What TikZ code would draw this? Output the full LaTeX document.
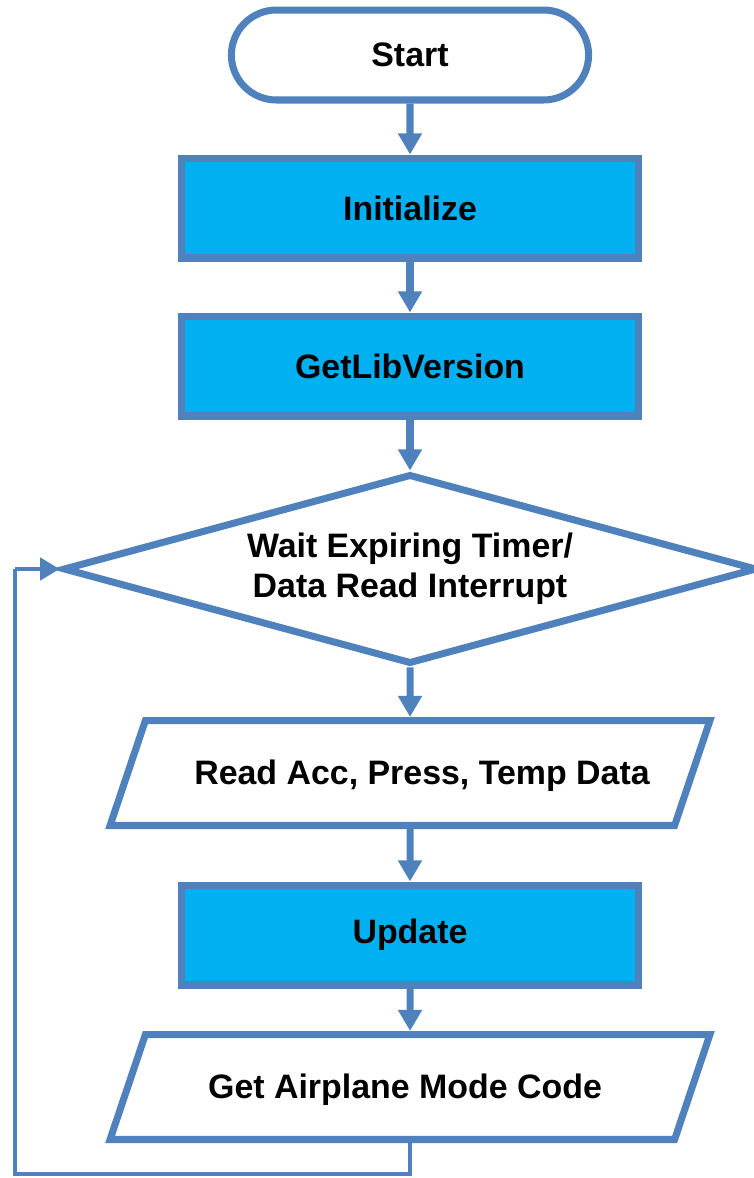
\documentclass[tikz,border=0pt]{standalone}
\usepackage{fontspec}
\setmainfont{Liberation Sans}
\usetikzlibrary{shapes.geometric,shapes.misc,arrows.meta}
\definecolor{edgeblue}{RGB}{79,129,189}
\definecolor{boxcyan}{RGB}{0,176,240}
\tikzset{
  terminal/.style={rounded rectangle, draw=edgeblue, line width=4pt, fill=white,
    minimum width=7.38cm, minimum height=1.8cm},
  process/.style={rectangle, draw=edgeblue, line width=4pt, fill=boxcyan,
    minimum width=9.14cm, minimum height=2cm},
  decision/.style={diamond, draw=edgeblue, line width=4pt, fill=white, aspect=3.65,
    inner sep=0pt, align=center, minimum width=13.88cm, minimum height=3.8cm},
  inout/.style={trapezium, trapezium left angle=71.4, trapezium right angle=108.6,
    trapezium stretches body=true, draw=edgeblue, line width=4pt, fill=white,
    text height=0.56cm, text depth=0.09cm, inner ysep=0.725cm,
    minimum width=12cm},
  flow/.style={draw=edgeblue, line width=4pt, -{Triangle[length=12pt,width=13pt]}},
  loopline/.style={draw=edgeblue, line width=2.5pt, line join=miter},
  every node/.style={font=\fontsize{19.3}{23}\selectfont\bfseries}
}
\begin{document}
\begin{tikzpicture}[x=0.02cm,y=-0.02cm]
			%%%%% FRAME %%%%%
			\useasboundingbox (0,0) rectangle (754,1178);
			
			\node[terminal] (start) at (410,55) {Start};
			\node[process] (init) at (410,208) {Initialize};
			\node[process] (getlib) at (410,366) {GetLibVersion};
			\node[decision] (wait) at (410,569) {Wait Expiring Timer/\\Data Read Interrupt};
			\node[inout] (read) at (410,773) {\hspace*{0.48cm}Read Acc, Press, Temp Data};
			\node[process] (update) at (410,935) {Update};
			\node[inout] (mode) at (410,1087) {Get Airplane Mode Code\hspace*{0.2cm}};
			
			\draw[flow] (start) -- (init);
			\draw[flow] (init) -- (getlib);
			\draw[flow] (getlib) -- (wait);
			\draw[flow] (wait) -- (read);
			\draw[flow] (read) -- (update);
			\draw[flow] (update) -- (mode);
			
			%%%%% LOOP BACK %%%%%
			\coordinate (loopbot) at (410,1174);
			\coordinate (looptop) at (15,569);
			\draw[loopline] (mode.south -| loopbot) -- (loopbot) -| (looptop);
			\draw[loopline, -{Triangle[length=11pt,width=12.5pt]}] (looptop) -- (wait.west);
\end{tikzpicture}
\end{document}
